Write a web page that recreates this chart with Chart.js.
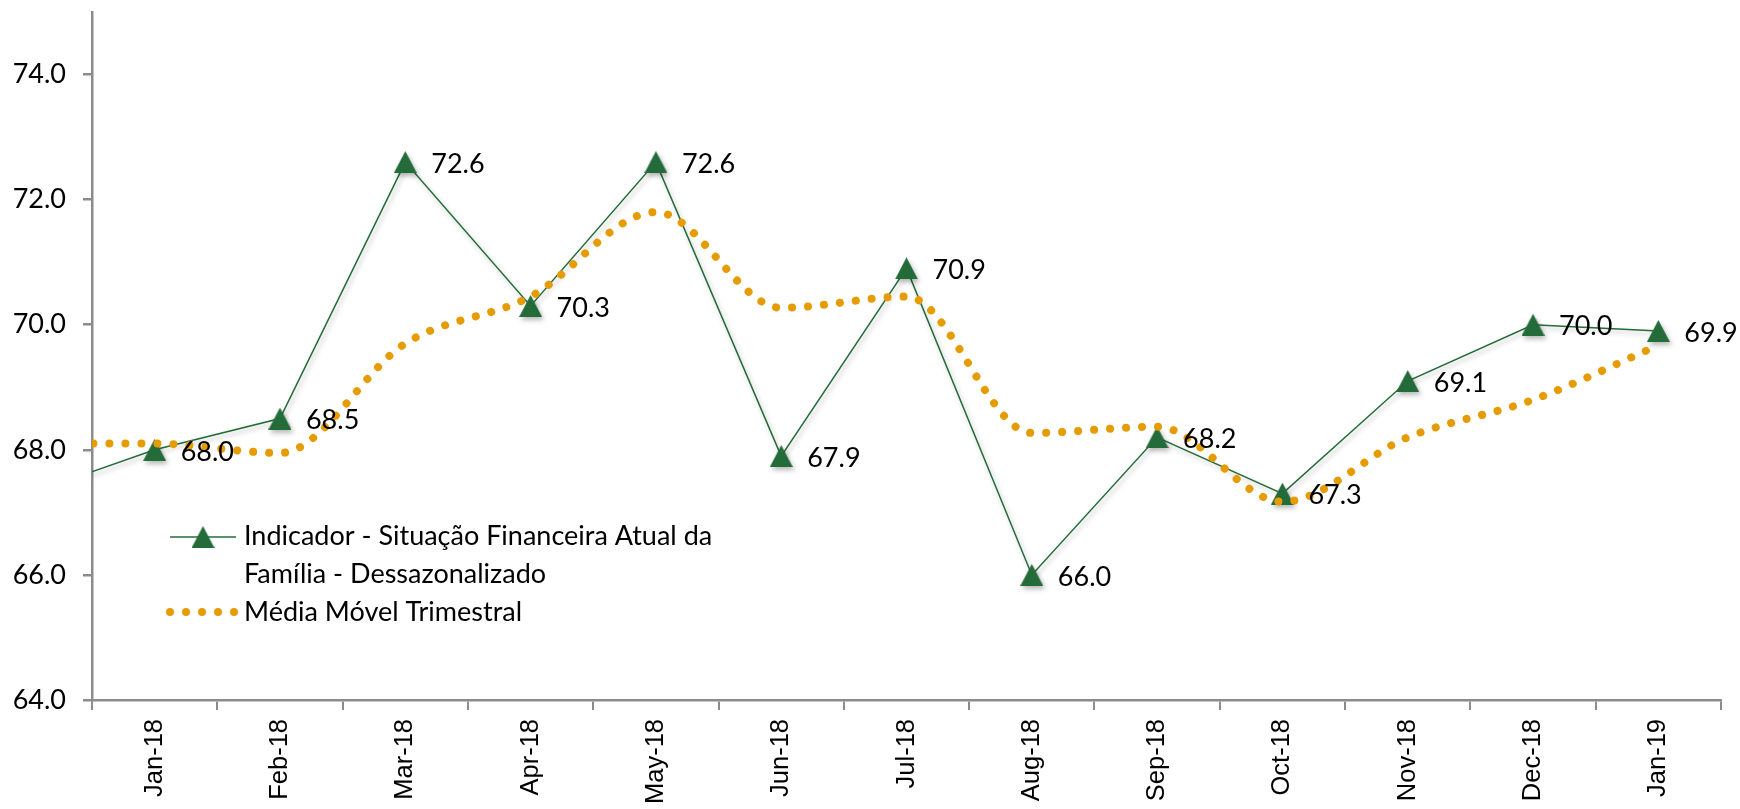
<!DOCTYPE html>
<html>
<head>
<meta charset="utf-8">
<script src="https://cdn.jsdelivr.net/npm/chart.js@4.4.1/dist/chart.umd.min.js"></script>
<style>
  body { margin: 0; background: #fff; }
  #wrap { width: 1740px; height: 809px; }
</style>
</head>
<body>
<div id="wrap"><canvas id="myChart" width="1740" height="809"></canvas></div>
<script>
// meses (Dec-17 fica fora da janela visivel, so para a linha sair da borda)
const meses = ['Dec-17', 'Jan-18', 'Feb-18', 'Mar-18', 'Apr-18', 'May-18', 'Jun-18', 'Jul-18',
    'Aug-18', 'Sep-18', 'Oct-18', 'Nov-18', 'Dec-18', 'Jan-19'];
const indicador = [67.3, 68.0, 68.5, 72.6, 70.3, 72.6, 67.9, 70.9, 66.0, 68.2, 67.3, 69.1, 70.0, 69.9];
const mediaMovel = [68.1, 68.1, 67.95, 69.7, 70.45, 71.8, 70.27, 70.45, 68.27, 68.37, 67.17, 68.2, 68.8, 69.67];
const yTicks = [64, 66, 68, 70, 72, 74];

const nomeIndicador = ['Indicador - Situação Financeira Atual da', 'Família - Dessazonalizado'];
const nomeMedia = 'Média Móvel Trimestral';

const verde = '#236B38';
const laranja = '#E69C00';
const cinza = '#8C8C8C';
const fonteTexto = 'Lato, "Open Sans", sans-serif';

// triangulo centrado pela caixa, como no Excel
function triangulo(w, h) {
    const c = document.createElement('canvas');
    c.width = w;
    c.height = h;
    const g = c.getContext('2d');
    g.fillStyle = verde;
    g.beginPath();
    g.moveTo(w / 2, 0);
    g.lineTo(w, h);
    g.lineTo(0, h);
    g.closePath();
    g.fill();
    return c;
}
const marcador = triangulo(23, 22);

const sombra = {
    id: 'sombra',
    beforeDatasetDraw(chart, args) {
        if (args.index !== 0) return;
        const ctx = chart.ctx;
        ctx.save();
        ctx.shadowColor = 'rgba(0,0,0,0.28)';
        ctx.shadowBlur = 5;
        ctx.shadowOffsetX = 2;
        ctx.shadowOffsetY = 3;
    },
    afterDatasetDraw(chart, args) {
        if (args.index !== 0) return;
        chart.ctx.restore();
    }
};

const rotulos = {
    id: 'rotulos',
    afterDatasetsDraw(chart) {
        const ctx = chart.ctx;
        const meta = chart.getDatasetMeta(0);
        ctx.save();
        ctx.font = '27px ' + fonteTexto;
        ctx.fillStyle = '#000';
        ctx.textAlign = 'left';
        ctx.textBaseline = 'middle';
        meta.data.forEach((p, i) => {
            if (i === 0) return;
            ctx.fillText(indicador[i].toFixed(1), p.x + 26, p.y + 2);
        });
        ctx.restore();
    }
};

const legenda = {
    id: 'legenda',
    afterDraw(chart) {
        const ctx = chart.ctx;
        ctx.save();
        // serie 1
        ctx.strokeStyle = verde;
        ctx.lineWidth = 1.5;
        ctx.beginPath();
        ctx.moveTo(170, 537);
        ctx.lineTo(236, 537);
        ctx.stroke();
        ctx.drawImage(marcador, 203 - 11.5, 537 - 11);
        // serie 2
        ctx.fillStyle = laranja;
        for (let k = 0; k < 5; k++) {
            ctx.beginPath();
            ctx.arc(170 + k * 16, 612, 4, 0, Math.PI * 2);
            ctx.fill();
        }
        ctx.font = '27px ' + fonteTexto;
        ctx.fillStyle = '#000';
        ctx.textBaseline = 'middle';
        ctx.fillText(nomeIndicador[0], 244, 536);
        ctx.fillText(nomeIndicador[1], 244, 574);
        ctx.fillText(nomeMedia, 244, 612);
        ctx.restore();
    }
};

const ctx = document.getElementById('myChart');
new Chart(ctx, {
    type: 'line',
    data: {
        labels: meses,
        datasets: [{
            label: nomeIndicador.join(' '),
            data: indicador,
            borderColor: verde,
            backgroundColor: verde,
            borderWidth: 1.5,
            pointStyle: marcador,
            pointRadius: c => c.dataIndex === 0 ? 0 : 12,
            pointBorderWidth: 0,
            tension: 0,
            clip: 0,
            order: 2
        }, {
            label: nomeMedia,
            data: mediaMovel,
            borderColor: laranja,
            borderWidth: 8,
            borderDash: [0.01, 16],
            borderCapStyle: 'round',
            pointRadius: 0,
            cubicInterpolationMode: 'monotone',
            clip: 0,
            order: 1
        }]
    },
    options: {
        responsive: false,
        animation: false,
        layout: { padding: { top: 12, right: 19, left: 0, bottom: 0 } },
        plugins: {
            legend: { display: false },
            tooltip: { enabled: false }
        },
        scales: {
            x: {
                min: 'Jan-18',
                offset: true,
                afterFit: s => { s.height = 109; s.paddingLeft = 0; s.paddingRight = 0; },
                grid: { offset: true, drawOnChartArea: false, tickLength: 10, color: cinza, lineWidth: 2 },
                border: { color: cinza, width: 2.5 },
                ticks: {
                    minRotation: 90, maxRotation: 90, padding: 9, autoSkip: false,
                    color: '#000',
                    font: { family: '"Liberation Sans", Arial, sans-serif', size: 25.5 }
                }
            },
            y: {
                min: 64,
                max: 75,
                afterFit: s => { s.width = 92; s.paddingTop = 0; s.paddingBottom = 0; },
                afterBuildTicks: s => { s.ticks = yTicks.map(v => ({ value: v })); },
                grid: { drawOnChartArea: false, tickLength: 9, color: cinza, lineWidth: 2.5 },
                border: { color: cinza, width: 2.5 },
                ticks: {
                    padding: 17,
                    color: '#000',
                    font: { family: fonteTexto, size: 27 },
                    callback: v => v.toFixed(1)
                }
            }
        }
    },
    plugins: [sombra, rotulos, legenda]
});
</script>
</body>
</html>
